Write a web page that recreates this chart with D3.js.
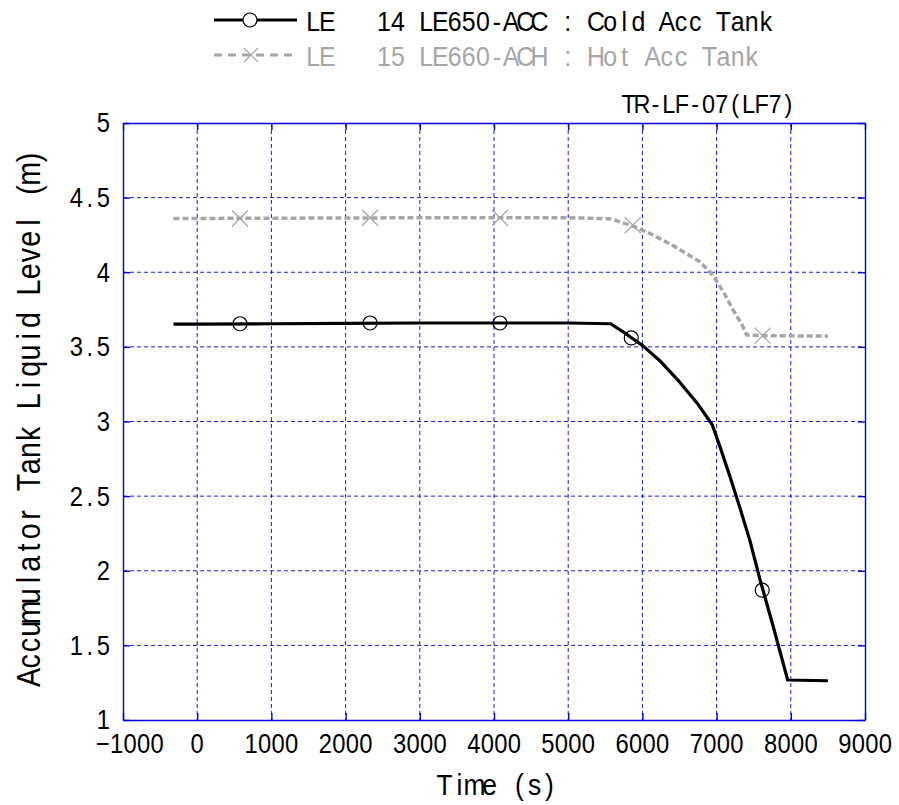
<!DOCTYPE html>
<html>
<head>
<meta charset="utf-8">
<script src="https://cdn.jsdelivr.net/npm/d3@7"></script>
<style>
  html, body { margin: 0; padding: 0; background: #ffffff; }
  svg { display: block; font-family: "Liberation Sans", "Noto Sans", sans-serif; }
</style>
</head>
<body>
<svg id="chart" width="899" height="805"></svg>
<script>
// ---------- data ----------
const coldTime  = [-320, 0, 1000, 2000, 3000, 4000, 5000, 5573, 5800, 6000, 6250, 6500, 6750, 6940, 7046, 7181, 7315, 7450, 7585, 7764, 7958, 8500];
const coldLevel = [3.652, 3.652, 3.655, 3.658, 3.66, 3.66, 3.66, 3.655, 3.58, 3.51, 3.40, 3.265, 3.115, 2.98, 2.83, 2.63, 2.42, 2.20, 1.94, 1.625, 1.268, 1.263];

const hotTime  = [-320, 1000, 3000, 5000, 5300, 5565, 5870, 6100, 6410, 6775, 6950, 7090, 7220, 7340, 7405, 7625, 8500];
const hotLevel = [4.36, 4.362, 4.365, 4.365, 4.362, 4.358, 4.31, 4.26, 4.18, 4.07, 3.98, 3.87, 3.75, 3.65, 3.58, 3.575, 3.572];

const coldMarkTime  = [577, 2330, 4080, 5850, 7615];
const coldMarkLevel = [3.655, 3.66, 3.66, 3.56, 1.87];
const hotMarkTime   = [577, 2330, 4080, 5870, 7620];
const hotMarkLevel  = [4.36, 4.365, 4.365, 4.315, 3.575];

const xTicks = [-1000, 0, 1000, 2000, 3000, 4000, 5000, 6000, 7000, 8000, 9000];
const yTicks = [1, 1.5, 2, 2.5, 3, 3.5, 4, 4.5, 5];
const yTickLabels = ["1", "1.5", "2", "2.5", "3", "3.5", "4", "4.5", "5"];

const legendLabels = ["LE   14 LE650-ACC : Cold Acc Tank", "LE   15 LE660-ACH : Hot Acc Tank"];
const chartTag = "TR-LF-07(LF7)";
const xTitle = "Time (s)";
const yTitle = "Accumulator Tank Liquid Level (m)";

// ---------- layout ----------
const svg = d3.select("#chart");
const L = 123, R = 865, T = 123, B = 720;
const x = d3.scaleLinear().domain([-1000, 9000]).range([L, R]);
const y = d3.scaleLinear().domain([1, 5]).range([B, T]);
const gridColor = "#1a1ae6";
const grey = "#a6a6a6";

// monospace-like text (half-width cells), glyphs centred in cells
function mono(parent, str, px, py, size, anchor, color) {
  const cw = size * 0.5, sx = 0.88;
  const chars = [...str];
  const n = chars.length;
  const start = anchor === "end" ? px - n * cw : anchor === "middle" ? px - n * cw / 2 : px;
  const xs = chars.map((c, i) => ((start + (i + 0.5) * cw) / sx).toFixed(2));
  return parent.append("text")
    .attr("transform", `scale(${sx},1)`)
    .attr("x", xs.join(" "))
    .attr("y", py)
    .attr("text-anchor", "middle")
    .attr("fill", color || "#000")
    .style("font-size", size + "px")
    .style("white-space", "pre")
    .text(str);
}

// ---------- grid ----------
const grid = svg.append("g");
grid.selectAll("line.vx").data(xTicks.slice(1, -1)).join("line")
  .attr("x1", d => x(d)).attr("x2", d => x(d)).attr("y1", T).attr("y2", B)
  .attr("stroke", gridColor).attr("stroke-width", 1).attr("stroke-dasharray", "4,3");
grid.selectAll("line.hy").data(yTicks.slice(1, -1)).join("line")
  .attr("x1", L).attr("x2", R).attr("y1", d => y(d)).attr("y2", d => y(d))
  .attr("stroke", gridColor).attr("stroke-width", 1).attr("stroke-dasharray", "4,3");

// ---------- axes (frame with inward ticks) ----------
const axB = svg.append("g").attr("transform", `translate(0,${B})`)
  .call(d3.axisBottom(x).tickValues(xTicks).tickSizeInner(-7).tickSizeOuter(0).tickFormat(""));
const axT = svg.append("g").attr("transform", `translate(0,${T})`)
  .call(d3.axisTop(x).tickValues(xTicks).tickSizeInner(-7).tickSizeOuter(0).tickFormat(""));
const axL = svg.append("g").attr("transform", `translate(${L},0)`)
  .call(d3.axisLeft(y).tickValues(yTicks).tickSizeInner(-7).tickSizeOuter(0).tickFormat(""));
const axR = svg.append("g").attr("transform", `translate(${R},0)`)
  .call(d3.axisRight(y).tickValues(yTicks).tickSizeInner(-7).tickSizeOuter(0).tickFormat(""));
[axB, axT, axL, axR].forEach(a => {
  a.selectAll("path,line").attr("stroke", "#0000e0").attr("stroke-width", 1.4);
});

// tick labels
const lab = svg.append("g");
xTicks.forEach(t => mono(lab, t < 0 ? "\u2212" + Math.abs(t) : String(t), x(t) + (t < 0 ? 7 : 0), 753, 27, "middle"));
yTicks.forEach((t, i) => mono(lab, yTickLabels[i], 110, y(t) + 9.5, 27, "end"));

// ---------- series ----------
const line = d3.line().x(d => x(d[0])).y(d => y(d[1]));
const hotData = hotTime.map((t, i) => [t, hotLevel[i]]);
const coldData = coldTime.map((t, i) => [t, coldLevel[i]]);

svg.append("path").datum(hotData).attr("d", line)
  .attr("fill", "none").attr("stroke", grey).attr("stroke-width", 3.5)
  .attr("stroke-dasharray", "6,3");
svg.append("path").datum(coldData).attr("d", line)
  .attr("fill", "none").attr("stroke", "#000").attr("stroke-width", 3.2)
  .attr("stroke-linejoin", "round");

// markers
const cross = (g, cx, cy, r, col) => {
  g.append("path").attr("d", `M${cx - r},${cy - r}L${cx + r},${cy + r}M${cx - r},${cy + r}L${cx + r},${cy - r}`)
    .attr("stroke", col).attr("stroke-width", 1.2).attr("fill", "none");
};
const mk = svg.append("g");
hotMarkTime.forEach((t, i) => cross(mk, x(t), y(hotMarkLevel[i]), 8, grey));
coldMarkTime.forEach((t, i) => {
  mk.append("circle").attr("cx", x(t)).attr("cy", y(coldMarkLevel[i])).attr("r", 7)
    .attr("fill", "none").attr("stroke", "#000").attr("stroke-width", 1.2);
});

// ---------- legend ----------
const lg = svg.append("g");
lg.append("line").attr("x1", 214).attr("x2", 297).attr("y1", 20).attr("y2", 20)
  .attr("stroke", "#000").attr("stroke-width", 3.2);
lg.append("circle").attr("cx", 250).attr("cy", 20).attr("r", 7)
  .attr("fill", "#fff").attr("stroke", "#000").attr("stroke-width", 1.2);
lg.append("line").attr("x1", 214).attr("x2", 297).attr("y1", 55).attr("y2", 55)
  .attr("stroke", grey).attr("stroke-width", 3).attr("stroke-dasharray", "8,6");
cross(lg, 251, 55, 7, grey);
mono(lg, legendLabels[0], 306, 31, 28.3, "start", "#000");
mono(lg, legendLabels[1], 306, 66, 28.3, "start", grey);

// ---------- titles ----------
mono(svg, chartTag, 795, 113, 26.6, "end", "#000");
mono(svg, xTitle, 497, 795, 30, "middle", "#000");
const yt = svg.append("g").attr("transform", `translate(40,${(T + B) / 2 - 4}) rotate(-90)`);
mono(yt, yTitle, 0, 0, 32.5, "middle", "#000");
</script>
</body>
</html>
